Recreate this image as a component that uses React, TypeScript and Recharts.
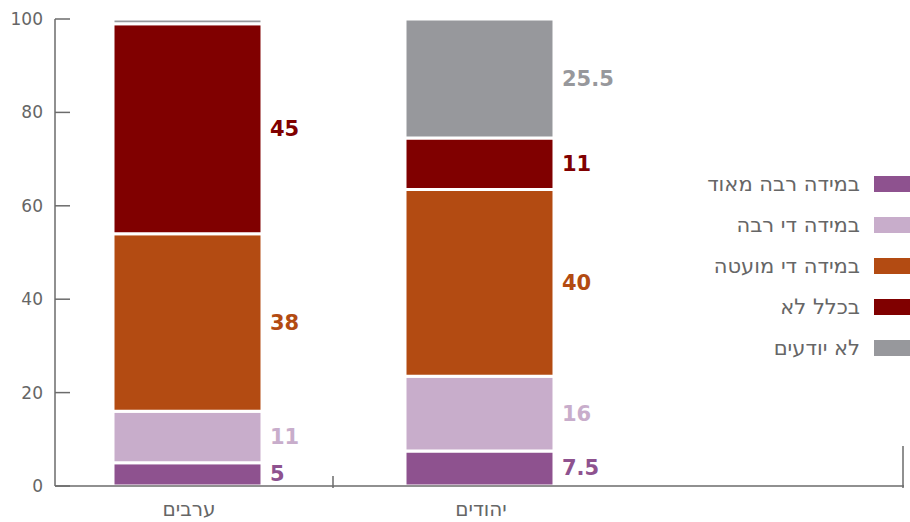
import React from 'react';
import { BarChart, Bar, XAxis, YAxis, LabelList } from 'recharts';

const categories = ['ערבים', 'יהודים', ''];
const seriesNames = ['במידה רבה מאוד', 'במידה די רבה', 'במידה די מועטה', 'בכלל לא', 'לא יודעים'];
const seriesKeys = ['veryMuch', 'quiteMuch', 'quiteLittle', 'notAtAll', 'dontKnow'];
const seriesColors = ['#8E528F', '#C8ADCB', '#B34B12', '#800000', '#97989C'];
const veryMuch = [5, 7.5, null];
const quiteMuch = [11, 16, null];
const quiteLittle = [38, 40, null];
const notAtAll = [45, 11, null];
const dontKnow = [1, 25.5, null];
const hiddenLabels = [{ key: 'dontKnow', index: 0 }];
const yTicks = [0, 20, 40, 60, 80, 100];

const seriesValues = [veryMuch, quiteMuch, quiteLittle, notAtAll, dontKnow];
const data = categories.map((c, i) => {
  const row: any = { name: c };
  seriesKeys.forEach((k, s) => {
    row[k] = seriesValues[s][i];
  });
  return row;
});

const W = 910;
const H = 522;
const MARGIN = { top: 19, right: 6, bottom: 6, left: 0 };
const AXIS_COLOR = '#6b6b6b';
const TEXT_COLOR = '#666666';
const HEB_FONT = '"DejaVu Sans", sans-serif';
const NUM_FONT = '"DejaVu Sans", sans-serif';

const YTick = (props: any) => {
  const { x, y, payload } = props;
  return (
    <g>
      <line x1={x + 12} x2={x + 27} y1={y} y2={y} stroke={AXIS_COLOR} strokeWidth={1.5} />
      <text x={x} y={y} textAnchor="end" dominantBaseline="central" fill={TEXT_COLOR} fontSize={17} fontFamily={NUM_FONT}>
        {payload.value}
      </text>
    </g>
  );
};

const XTick = (props: any) => {
  const { x, y, payload, index } = props;
  const half = payload && payload.offset ? payload.offset : 146;
  const rightEdge = W - MARGIN.right - 1;
  return (
    <g>
      {index === 0 && (
        <line x1={x + half} x2={x + half} y1={y - 12} y2={y} stroke={AXIS_COLOR} strokeWidth={1.5} />
      )}
      {index === categories.length - 1 && (
        <line x1={rightEdge} x2={rightEdge} y1={y - 42} y2={y} stroke={AXIS_COLOR} strokeWidth={1.5} />
      )}
      <text x={x + 2} y={y + 21} textAnchor="middle" dominantBaseline="central" fill={TEXT_COLOR} fontSize={20} fontFamily={HEB_FONT}>
        {payload.value}
      </text>
    </g>
  );
};

const makeLabel = (key: string, color: string) => (props: any) => {
  const { x, y, width, height, value, index } = props;
  if (value == null) return null;
  if (hiddenLabels.some((h) => h.key === key && h.index === index)) return null;
  return (
    <text
      x={x + width + 8}
      y={y + height / 2}
      dominantBaseline="central"
      textAnchor="start"
      fill={color}
      fontSize={21}
      fontWeight="bold"
      fontFamily={NUM_FONT}
    >
      {value}
    </text>
  );
};

const LegendBox = () => (
  <div style={{ position: 'absolute', top: 163, right: 0, display: 'flex', flexDirection: 'column' }}>
    {seriesKeys.map((k, i) => (
      <div key={k} style={{ display: 'flex', alignItems: 'center', justifyContent: 'flex-end', height: 41 }}>
        <span
          style={{
            direction: 'rtl',
            fontFamily: HEB_FONT,
            fontSize: 21,
            color: TEXT_COLOR,
            marginRight: 14,
            whiteSpace: 'nowrap',
            lineHeight: '24px',
          }}
        >
          {seriesNames[i]}
        </span>
        <span style={{ display: 'inline-block', width: 36, height: 16, background: seriesColors[i] }} />
      </div>
    ))}
  </div>
);

export default function App() {
  return (
    <div style={{ position: 'absolute', left: 0, top: 0, width: W, height: H, background: '#fff' }}>
      <BarChart width={W} height={H} data={data} margin={MARGIN} barSize={149}>
        <YAxis
          domain={[0, 100]}
          ticks={yTicks}
          width={55}
          axisLine={{ stroke: AXIS_COLOR, strokeWidth: 1.5 }}
          tickLine={false}
          tickSize={0}
          tickMargin={12}
          tick={<YTick />}
          interval={0}
        />
        <XAxis
          dataKey="name"
          height={30}
          padding={{ left: -14, right: -13 }}
          axisLine={{ stroke: AXIS_COLOR, strokeWidth: 1.5 }}
          tickLine={false}
          tickSize={0}
          tick={<XTick />}
          interval={0}
        />
        {seriesKeys.map((k, i) => (
          <Bar
            key={k}
            dataKey={k}
            name={seriesNames[i]}
            stackId="a"
            fill={seriesColors[i]}
            stroke="#ffffff"
            strokeWidth={3}
            isAnimationActive={false}
          >
            <LabelList dataKey={k} content={makeLabel(k, seriesColors[i])} />
          </Bar>
        ))}
      </BarChart>
      <LegendBox />
    </div>
  );
}
